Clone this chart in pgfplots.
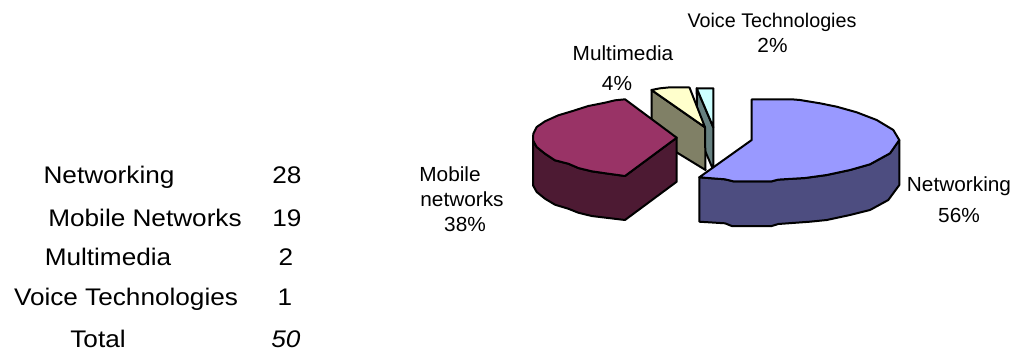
\documentclass[border=0pt]{standalone}
\usepackage{pgfplots}
\pgfplotsset{compat=1.18}
\usepackage{fontspec}
\setmainfont{Liberation Sans}
\newfontfamily\tablefont[FakeStretch=1.09]{Liberation Sans}
\newfontfamily\labelfont[FakeStretch=1.02]{Liberation Sans}
% Outlines of the exploded pie, in drawing units (y grows downwards)
\pgfplotstableread{
x y
696.7 88.3
713.3 127.3
713.3 170
697 132
}\voiceside
\pgfplotstableread{
x y
696.7 88.3
713.3 88.3
713.3 127.3
}\voicetop
\pgfplotstableread{
x y
651.5 90
705 127.3
705.5 170
651.5 137
}\mediaside
\pgfplotstableread{
x y
651.5 90
660 88.3
670 87.3
689.5 87.5
705 127.3
}\mediatop
\pgfplotstableread{
x y
533 140.3
536.7 147
545 153.7
555 160.3
568.3 163.7
578.3 168
591.7 171.3
608.3 173.7
625 176
676.7 137.7
676.7 181.7
625 220
608.3 218
591.7 216
578.3 212.7
568.3 208.7
555 204.7
545 198.7
536.7 192
533 185.3
}\mobileside
\pgfplotstableread{
x y
625 176
676.7 137.7
625 99.3
615 100.3
605 102.7
588.3 106
571.7 111.3
558.3 115.3
545 121.3
536.7 127
533.3 133.7
533 140.3
536.7 147
545 153.7
555 160.3
568.3 163.7
578.3 168
591.7 171.3
608.3 173.7
}\mobiletop
\pgfplotstableread{
x y
899.3 140
890 153.3
870 164.3
850 170
826.7 175
805 178
778.3 179.6
771.7 181.3
733.3 181.3
725 179.3
699.3 177.3
699.3 221.7
725 223.3
731.7 226
771.7 226
778.3 224
810 221.7
826.7 220
850 215
870 210
888.3 200
899.3 185
}\netside
\pgfplotstableread{
x y
751.7 99.3
791.7 99.3
800 100
820 103.3
836.7 106.7
856.7 112.3
876.7 120
893.3 130
899.3 140
890 153.3
870 164.3
850 170
826.7 175
805 178
778.3 179.6
771.7 181.3
733.3 181.3
725 179.3
699.3 177.3
751.7 140
}\nettop
\definecolor{nettopc}{HTML}{9999FF}
\definecolor{netsidec}{HTML}{4D4D80}
\definecolor{mobtopc}{HTML}{993366}
\definecolor{mobsidec}{HTML}{4D1A33}
\definecolor{medtopc}{HTML}{FFFFCC}
\definecolor{medsidec}{HTML}{808066}
\definecolor{voitopc}{HTML}{CCFFFF}
\definecolor{voisidec}{HTML}{668080}
\begin{document}
\begin{tikzpicture}
\path[use as bounding box] (0,0) rectangle (762.75pt,263.25pt);
\begin{axis}[
  hide axis, x=0.75pt, y=0.75pt, scale only axis,
  at={(0,0)}, anchor=south west,
  xmin=0, xmax=1017, ymin=0, ymax=351, y dir=reverse,
  clip=false,
  every axis plot/.append style={draw=black, line width=1.5pt, line join=round},
]
\addplot[fill=voisidec] table {\voiceside} -- cycle;
\addplot[fill=voitopc] table {\voicetop} -- cycle;
\addplot[fill=medsidec] table {\mediaside} -- cycle;
\addplot[fill=medtopc] table {\mediatop} -- cycle;
\addplot[fill=mobsidec] table {\mobileside} -- cycle;
\addplot[fill=mobtopc] table {\mobiletop} -- cycle;
\addplot[fill=netsidec] table {\netside} -- cycle;
\addplot[fill=nettopc] table {\nettop} -- cycle;

% Data labels beside the slices, one line per node on its baseline
\def\lab#1#2#3{\node[inner sep=0pt, anchor=base, font=\labelfont\fontsize{15.3pt}{17pt}\selectfont] at (axis cs:#1,#2) {#3};}
\node[inner sep=0pt, anchor=base, font=\fontsize{14.8pt}{17pt}\selectfont] at (axis cs:772,27.7) {Voice Technologies};
\lab{772.5}{52.7}{2\%}
\lab{623}{60}{Multimedia}
\lab{617}{90}{4\%}
\lab{450}{181.7}{Mobile}
\lab{462}{206.7}{networks}
\lab{465}{231}{38\%}
\lab{959}{191}{Networking}
\lab{959}{222}{56\%}

% Count table at the left
\def\tab#1#2#3{\node[inner sep=0pt, anchor=base, font=\tablefont\fontsize{18pt}{20pt}\selectfont] at (axis cs:#1,#2) {#3};}
\tab{109}{183}{Networking}
\tab{145}{226}{Mobile Networks}
\tab{108}{265.5}{Multimedia}
\tab{126}{305}{Voice Technologies}
\tab{98}{347}{Total}
\tab{287}{183}{28}
\tab{287}{226}{19}
\tab{286}{265.5}{2}
\tab{285}{305}{1}
\tab{286}{347}{\itshape 50}
\end{axis}
\end{tikzpicture}
\end{document}
